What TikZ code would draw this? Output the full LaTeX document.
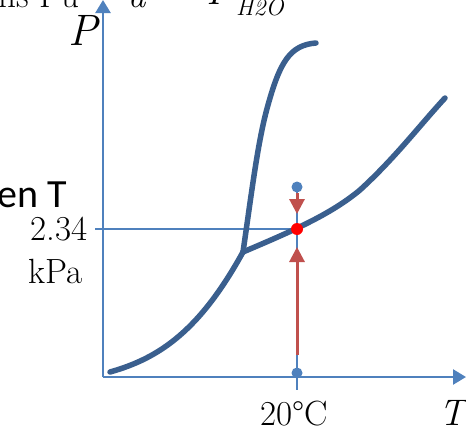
\documentclass[tikz,border=0pt]{standalone}
\usepackage{fontspec}
\newfontfamily\calib{Carlito}
\usetikzlibrary{arrows.meta}
\definecolor{axisblue}{HTML}{4F81BD}
\definecolor{curveblue}{HTML}{3A5F8E}
\definecolor{arrred}{HTML}{C0504D}
\begin{document}
\begin{tikzpicture}[x=1pt,y=-1pt,
  axis/.style={draw=axisblue,line width=2.5pt,-{Triangle[width=15pt,length=13pt]}},
  guide/.style={draw=axisblue,line width=2pt},
  curve/.style={draw=curveblue,line width=5.5pt,line cap=round,line join=round},
  redarrow/.style={draw=arrred,line width=3pt,-{Triangle[width=15pt,length=15pt]}},
  bdot/.style={circle,fill=axisblue,inner sep=0pt,minimum size=11pt},
  rdot/.style={circle,fill=red,inner sep=0pt,minimum size=12pt},
  serif/.style={inner sep=0pt,font=\fontsize{35}{40}\selectfont},
  ital/.style={inner sep=0pt,font=\fontsize{40}{44}\selectfont\itshape},
  sanslab/.style={inner sep=0pt,font=\fontsize{40}{44}\selectfont\calib},
]
\useasboundingbox (0,0) rectangle (466,431);
\clip (0,0) rectangle (466,431);
\fill[white] (0,0) rectangle (466,431);

% partially visible top text
\node[serif,anchor=base west] (topa) at (-2,7) {ns Pu};
\node[serif,anchor=base west,font=\fontsize{35}{40}\selectfont\itshape] (topb) at (128,7) {a};
\node[serif,anchor=base west,font=\fontsize{40}{44}\selectfont\itshape] (topc) at (206,5) {P};
\node[serif,anchor=base west,font=\fontsize{24}{28}\selectfont\itshape] (topd) at (236,15) {H2O};

% axes
\coordinate (O) at (103,377);
\coordinate (ytip) at (103,0);
\coordinate (xtip) at (466,377);
\draw[axis] (O) -- (ytip);
\draw[axis] (O) -- (xtip);

% labels
\node[ital,anchor=base west,font=\fontsize{44}{48}\selectfont\itshape] (Pl) at (68,45) {P};
\node[ital,anchor=base west,font=\fontsize{37}{40}\selectfont\itshape] (Tl) at (439,425) {T};
\node[serif,anchor=base] (t20) at (294,425) {20°C};
\node[serif,anchor=base east] (v234) at (88,240) {2.34};
\node[serif,anchor=base east] (kpa) at (83,283) {kPa};
\node[sanslab,anchor=base west] (enT) at (-3,207) {en T};

% guide lines
\coordinate (tick) at (95,229);
\coordinate (pt) at (297,229);
\coordinate (vtop) at (297,187);
\coordinate (vbot) at (297,390);
\draw[guide] (tick) -- (pt);
\draw[guide] (vtop) -- (vbot);

% phase curves
\coordinate (s0) at (110,372);
\coordinate (TP) at (243,252);
\coordinate (m1) at (268,105);
\coordinate (m2) at (316,43);
\coordinate (v1) at (360,190);
\coordinate (v2) at (445,98);
\draw[curve] (s0) .. controls (160,358) and (200,330) .. (TP);
\draw[curve] (TP) .. controls (252,190) and (258,140) .. (m1) .. controls (280,62) and (290,45) .. (m2);
\draw[curve] (TP) .. controls (290,232) and (330,215) .. (v1) .. controls (395,158) and (420,125) .. (v2);

% red arrows
\coordinate (ua) at (297,355);
\coordinate (ub) at (297,247);
\coordinate (da) at (297,193);
\coordinate (db) at (297,214);
\draw[redarrow] (ua) -- (ub);
\draw[redarrow] (da) -- (db);

% dots
\node[bdot] (dtop) at (vtop) {};
\node[bdot] (dbot) at (297,373) {};
\node[rdot] (dred) at (pt) {};
\end{tikzpicture}
\end{document}
